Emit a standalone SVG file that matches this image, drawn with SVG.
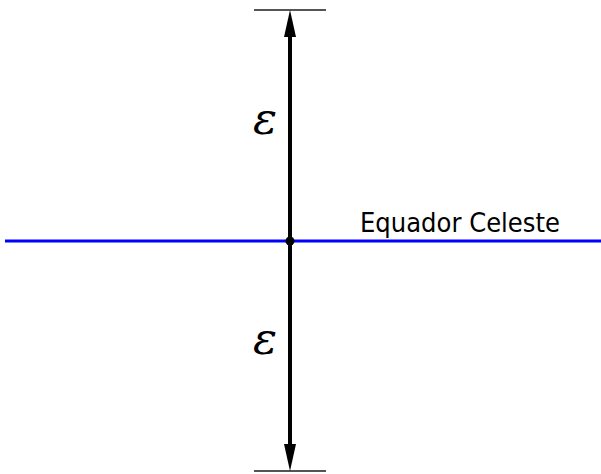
<svg xmlns="http://www.w3.org/2000/svg" width="601" height="474" viewBox="0 0 601 474">
<style>
.tick{stroke:#555;stroke-width:2}
.axis{stroke:#000;stroke-width:4}
.head{fill:#000}
.eps{font-family:"DejaVu Serif","Liberation Serif",serif;font-style:italic;font-size:45px;fill:#000}
.lbl{font-family:"DejaVu Sans","Liberation Sans",sans-serif;font-size:27px;fill:#000}
</style>
<g id="equator">
<line x1="5" y1="241" x2="601" y2="241" stroke="#0000ff" stroke-width="3"/>
<text class="lbl" x="360" y="232" textLength="200" lengthAdjust="spacingAndGlyphs">Equador Celeste</text>
</g>
<g id="ticks">
<line class="tick" x1="254" y1="10" x2="326" y2="10"/>
<line class="tick" x1="254" y1="471" x2="326" y2="471"/>
</g>
<g id="connectors">
<line class="axis" x1="290" y1="241" x2="290" y2="36"/>
<polygon class="head" points="290,10 284,37 296,37"/>
<line class="axis" x1="290" y1="241" x2="290" y2="446"/>
<polygon class="head" points="290,471 284,444 296,444"/>
</g>
<g id="center">
<circle cx="290" cy="241" r="4.5" fill="#000"/>
</g>
<g id="labels">
<text class="eps" x="253" y="134">ε</text>
<text class="eps" x="253" y="354">ε</text>
</g>
</svg>
